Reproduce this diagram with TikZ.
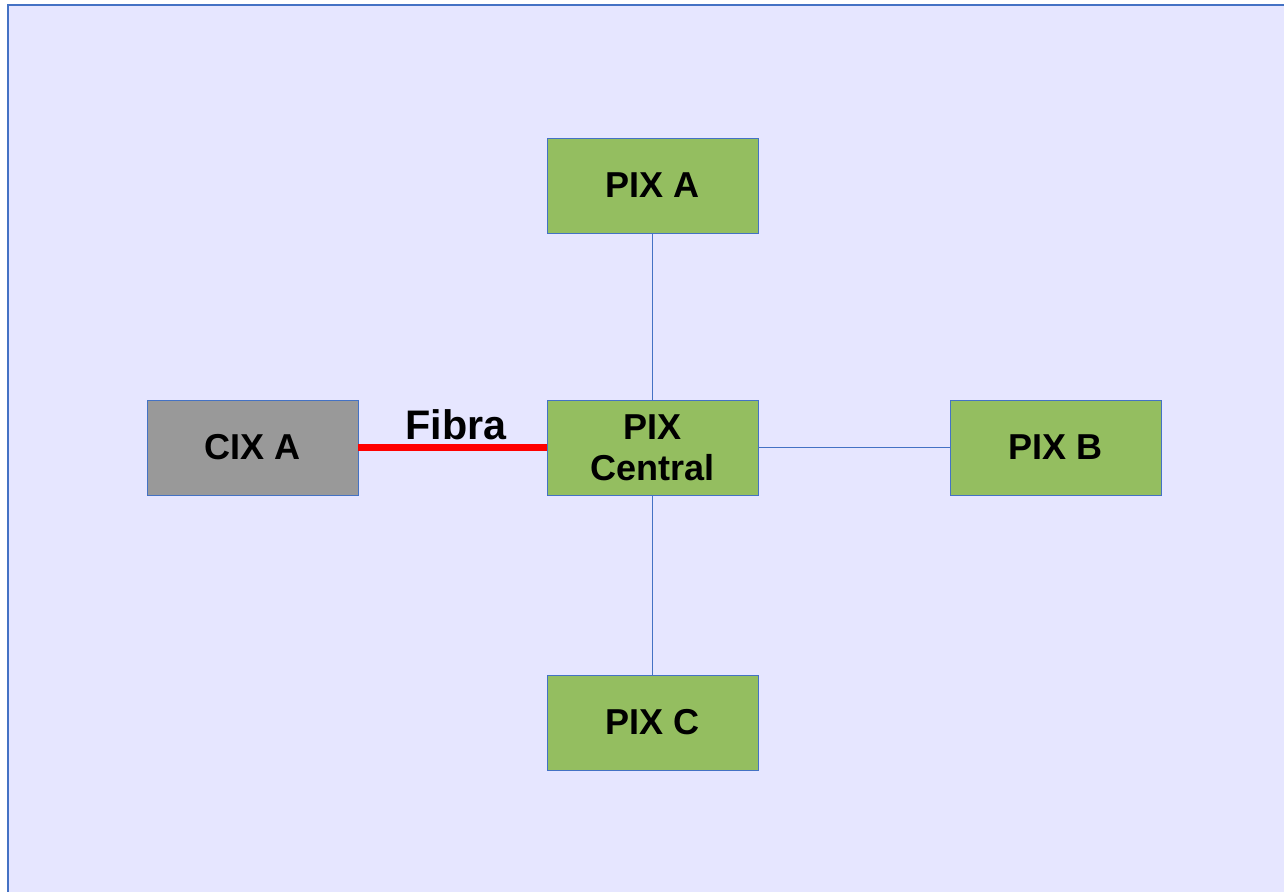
\documentclass[tikz,border=0pt]{standalone}
\usepackage{fontspec}
\setmainfont{Liberation Sans}
\usepackage{xcolor}
\usetikzlibrary{positioning}
\definecolor{bgfill}{HTML}{E6E6FF}
\definecolor{edgeblue}{HTML}{4472C4}
\definecolor{pixgreen}{HTML}{94BE60}
\definecolor{cixgray}{HTML}{999999}

\begin{document}
\begin{tikzpicture}[
    x=0.02cm, y=-0.02cm,
    box/.style={
        rectangle,
        draw=edgeblue,
        line width=0.5pt,
        minimum width=4.22cm,
        minimum height=1.9cm,
        align=center,
        inner sep=0pt,
        font=\fontsize{20.5}{23.3}\selectfont\bfseries
    },
    pix/.style={box, fill=pixgreen},
    cix/.style={box, fill=cixgray},
    link/.style={edgeblue, line width=0.6pt},
    fibre/.style={red, line width=0.14cm}
]

% Background
\useasboundingbox (0,0) rectangle (1284,892);
\draw[fill=bgfill, draw=edgeblue, line width=0.8pt] (8,5) rectangle (1300,910);

% Exchange points
\node[pix] (pixa) at (652.5, 185.5) {PIX A};
\node[pix] (central) at (652.5, 447.5) {PIX\\Central};
\node[cix] (cixa) at (252.5, 447.5) {CIX A};
\node[pix] (pixb) at (1055.5, 447.5) {PIX B};
\node[pix] (pixc) at (652.5, 722.5) {PIX C};

% Links
\draw[link] (pixa) -- (central);
\draw[link] (central) -- (pixb);
\draw[link] (central) -- (pixc);
\draw[fibre] (cixa) -- (central);

% Label
\node[font=\fontsize{23.5}{26}\selectfont\bfseries, anchor=base, inner sep=0pt] (fibra) at (456, 439) {Fibra};

\end{tikzpicture}
\end{document}
